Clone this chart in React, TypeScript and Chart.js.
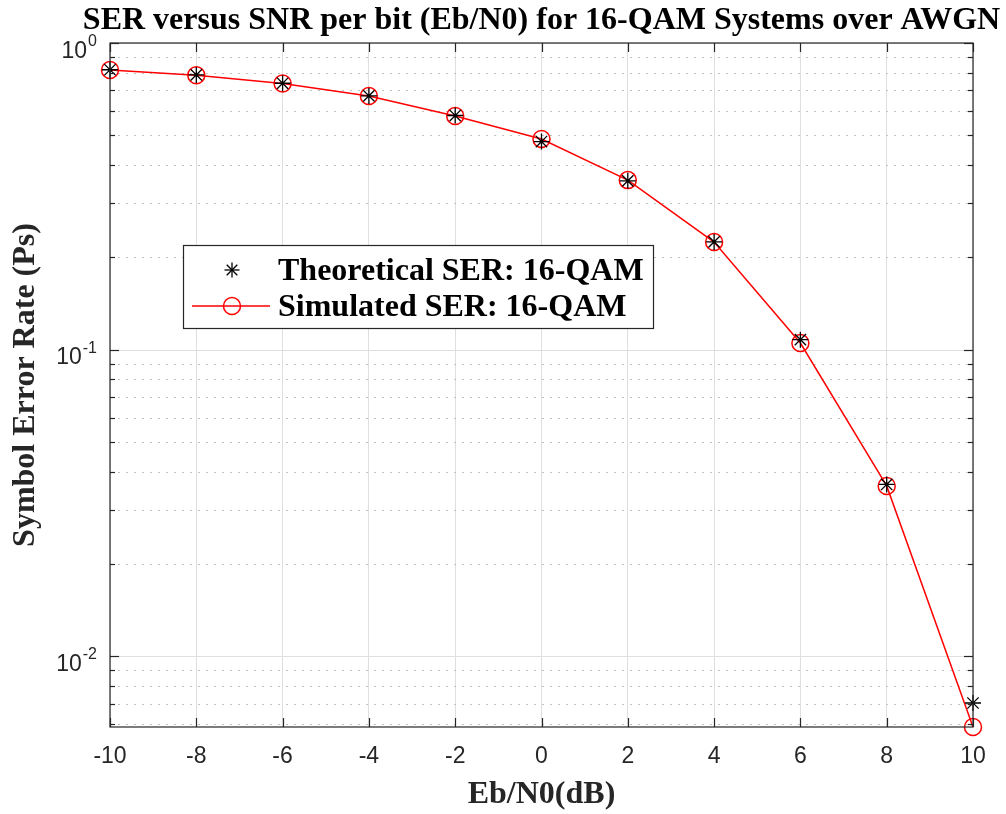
import React, { useEffect, useRef } from 'react';
import { Chart, registerables } from 'chart.js';

Chart.register(...registerables);

// Eb/N0 sweep in dB and the symbol error rates measured / predicted at each point
const ebN0dB = [-10, -8, -6, -4, -2, 0, 2, 4, 6, 8, 10];
const theoreticalSER = [0.818, 0.787, 0.739, 0.672, 0.58, 0.477, 0.355, 0.2245, 0.1077, 0.0363, 0.00703];
const simulatedSER = [0.816, 0.785, 0.738, 0.672, 0.578, 0.486, 0.357, 0.2242, 0.105, 0.0359, 0.00587];

// Axis ranges and tick positions
const xRange = [-10, 10];
const yRange = [0.00587, 1];
const yMajorTicks = [0.01, 0.1, 1];
const yMajorExponents = ['-2', '-1', '0'];
const yMinorTicks = [
  0.006, 0.007, 0.008, 0.009,
  0.02, 0.03, 0.04, 0.05, 0.06, 0.07, 0.08, 0.09,
  0.2, 0.3, 0.4, 0.5, 0.6, 0.7, 0.8, 0.9,
];

const titleText = 'SER versus SNR per bit (Eb/N0) for 16-QAM Systems over AWGN';
const xTitleText = 'Eb/N0(dB)';
const yTitleText = 'Symbol Error Rate (Ps)';
const seriesLabels = ['Theoretical SER: 16-QAM', 'Simulated SER: 16-QAM'];

const AXIS = '#262626';
const GRID = '#dfdfdf';
const MINOR_GRID = '#c2c2c2';
const RED = '#ff0000';
const SERIF = '"Liberation Serif", "Times New Roman", serif';
const SANS = '"Liberation Sans", Arial, Helvetica, sans-serif';
const TICK_FONT = 23;
const BOLD_FONT = 32;

function strokeLine(ctx: CanvasRenderingContext2D, x1: number, y1: number, x2: number, y2: number) {
  ctx.beginPath();
  ctx.moveTo(x1, y1);
  ctx.lineTo(x2, y2);
  ctx.stroke();
}

function drawStar(ctx: CanvasRenderingContext2D, cx: number, cy: number, r: number) {
  const d = r * Math.SQRT1_2;
  strokeLine(ctx, cx - r, cy, cx + r, cy);
  strokeLine(ctx, cx, cy - r, cx, cy + r);
  strokeLine(ctx, cx - d, cy - d, cx + d, cy + d);
  strokeLine(ctx, cx - d, cy + d, cx + d, cy - d);
}

// Dotted minor grid and solid major grid for the log axis
const logGrid = {
  id: 'logGrid',
  beforeDatasetsDraw(chart: any) {
    const { ctx, chartArea: a, scales } = chart;
    const y = scales.y;
    ctx.save();
    ctx.lineWidth = 1;
    ctx.strokeStyle = GRID;
    yMajorTicks.forEach((v) => {
      const py = Math.round(y.getPixelForValue(v)) + 0.5;
      strokeLine(ctx, a.left, py, a.right, py);
    });
    ctx.setLineDash([2, 6]);
    ctx.strokeStyle = MINOR_GRID;
    yMinorTicks.forEach((v) => {
      const py = Math.round(y.getPixelForValue(v)) + 0.5;
      strokeLine(ctx, a.left, py, a.right, py);
    });
    ctx.restore();
  },
};

// Boxed axes with inward ticks, log labels, titles and the legend
const boxedAxes = {
  id: 'boxedAxes',
  afterDraw(chart: any) {
    const { ctx, chartArea: a, scales } = chart;
    const x = scales.x;
    const y = scales.y;
    ctx.save();

    // box
    ctx.strokeStyle = AXIS;
    ctx.lineWidth = 1.2;
    ctx.strokeRect(a.left, a.top, a.right - a.left, a.bottom - a.top);

    // x ticks, top and bottom
    x.ticks.forEach((t: any) => {
      const px = Math.round(x.getPixelForValue(t.value)) + 0.5;
      strokeLine(ctx, px, a.bottom, px, a.bottom - 9);
      strokeLine(ctx, px, a.top, px, a.top + 9);
    });

    // y ticks, left and right
    yMajorTicks.forEach((v) => {
      const py = Math.round(y.getPixelForValue(v)) + 0.5;
      strokeLine(ctx, a.left, py, a.left + 9, py);
      strokeLine(ctx, a.right, py, a.right - 9, py);
    });
    yMinorTicks.forEach((v) => {
      const py = Math.round(y.getPixelForValue(v)) + 0.5;
      strokeLine(ctx, a.left, py, a.left + 5, py);
      strokeLine(ctx, a.right, py, a.right - 5, py);
    });

    // y labels as powers of ten
    ctx.fillStyle = AXIS;
    ctx.textBaseline = 'alphabetic';
    ctx.textAlign = 'left';
    yMajorTicks.forEach((v, i) => {
      const py = y.getPixelForValue(v);
      ctx.font = `16px ${SANS}`;
      const exp = yMajorExponents[i];
      const ew = ctx.measureText(exp).width;
      const ex = a.left - 13 - ew;
      ctx.fillText(exp, ex, py + 3);
      ctx.font = `${TICK_FONT}px ${SANS}`;
      const bw = ctx.measureText('10').width;
      ctx.fillText('10', ex - 1 - bw, py + 14.5);
    });

    // title
    ctx.fillStyle = '#000000';
    ctx.font = `bold ${BOLD_FONT}px ${SERIF}`;
    ctx.textAlign = 'center';
    ctx.fillText(titleText, (a.left + a.right) / 2, 29);

    // axis titles
    ctx.fillStyle = AXIS;
    ctx.fillText(xTitleText, (a.left + a.right) / 2, 803);
    ctx.save();
    ctx.translate(34, (a.top + a.bottom) / 2);
    ctx.rotate(-Math.PI / 2);
    ctx.fillText(yTitleText, 0, 0);
    ctx.restore();

    // legend
    const lx = 183.5, ly = 245.5, lw = 470, lh = 83;
    ctx.fillStyle = '#ffffff';
    ctx.fillRect(lx, ly, lw, lh);
    ctx.strokeStyle = AXIS;
    ctx.lineWidth = 1.2;
    ctx.strokeRect(lx, ly, lw, lh);

    const rows = [270, 306];
    ctx.strokeStyle = '#000000';
    ctx.lineWidth = 1.3;
    drawStar(ctx, 232, rows[0], 7.5);
    ctx.strokeStyle = RED;
    ctx.lineWidth = 1.5;
    strokeLine(ctx, 192, rows[1], 270, rows[1]);
    ctx.beginPath();
    ctx.arc(232, rows[1], 8.5, 0, Math.PI * 2);
    ctx.stroke();

    ctx.fillStyle = '#000000';
    ctx.font = `bold ${BOLD_FONT}px ${SERIF}`;
    ctx.textAlign = 'left';
    chart.data.datasets.forEach((ds: any, i: number) => {
      ctx.fillText(ds.label, 278, rows[i] + 10);
    });

    ctx.restore();
  },
};

export default function App() {
  const canvasRef = useRef<HTMLCanvasElement | null>(null);

  useEffect(() => {
    if (!canvasRef.current) return;
    const chart = new Chart(canvasRef.current, {
      type: 'line',
      data: {
        datasets: [
          {
            label: seriesLabels[0],
            data: ebN0dB.map((v, i) => ({ x: v, y: theoreticalSER[i] })),
            showLine: false,
            pointStyle: 'star',
            pointRadius: 8,
            pointBorderColor: '#000000',
            pointBackgroundColor: '#000000',
            pointBorderWidth: 1.3,
            borderColor: '#000000',
            clip: false,
          },
          {
            label: seriesLabels[1],
            data: ebN0dB.map((v, i) => ({ x: v, y: simulatedSER[i] })),
            borderColor: RED,
            borderWidth: 1.5,
            pointStyle: 'circle',
            pointRadius: 8.5,
            pointBorderColor: RED,
            pointBackgroundColor: 'rgba(0,0,0,0)',
            pointBorderWidth: 1.5,
            tension: 0,
            fill: false,
            clip: false,
          },
        ],
      },
      options: {
        animation: false,
        responsive: false,
        events: [],
        layout: { padding: { top: 43, right: 33, left: 0, bottom: 0 } },
        plugins: {
          legend: { display: false },
          title: { display: false },
          tooltip: { enabled: false },
        },
        scales: {
          x: {
            type: 'linear',
            min: xRange[0],
            max: xRange[1],
            ticks: {
              stepSize: 2,
              color: AXIS,
              font: { family: SANS, size: TICK_FONT },
              padding: 16,
              maxRotation: 0,
            },
            grid: { color: GRID, drawTicks: false, lineWidth: 1 },
            border: { display: false },
            afterFit: (s: any) => {
              s.height = 87;
            },
          },
          y: {
            type: 'logarithmic',
            min: yRange[0],
            max: yRange[1],
            ticks: { display: false },
            grid: { display: false },
            border: { display: false },
            afterFit: (s: any) => {
              s.width = 110;
            },
          },
        },
      },
      plugins: [logGrid, boxedAxes],
    });
    return () => chart.destroy();
  }, []);

  return (
    <div style={{ position: 'fixed', left: 0, top: 0, width: 1006, height: 814, background: '#ffffff' }}>
      <canvas ref={canvasRef} width={1006} height={814} />
    </div>
  );
}
